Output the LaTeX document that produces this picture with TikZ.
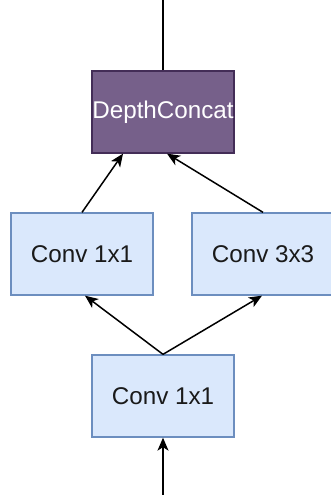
\documentclass[tikz,border=0pt]{standalone}
\usepackage{fontspec}
\setmainfont{Liberation Sans}
\usetikzlibrary{arrows.meta}
\definecolor{convfill}{HTML}{DAE8FC}
\definecolor{convline}{HTML}{6C8EBF}
\definecolor{catfill}{HTML}{76608A}
\definecolor{catline}{HTML}{432D57}
\definecolor{labeltext}{HTML}{1A1A1A}
\tikzset{
  block/.style={rectangle, minimum width=142pt, minimum height=82pt, inner sep=0pt,
    line width=1.3pt, font=\fontsize{24.2}{27}\selectfont},
  conv/.style={block, fill=convfill, draw=convline, text=labeltext},
  concat/.style={block, fill=catfill, draw=catline, text=white},
  flow/.style={line width=1.5pt, draw=black, -{Stealth[length=13pt,width=11pt,inset=3.5pt]}},
  plain/.style={line width=1.5pt, draw=black}
}
\begin{document}
\begin{tikzpicture}[x=1pt, y=-1pt]
  \useasboundingbox (0,0) rectangle (330,495);

  % layers
  \node[concat] (cat) at (163,112) {DepthConcat};
  \node[conv] (left) at (82,254) {Conv 1x1};
  \node[conv] (right) at (263,254) {Conv 3x3};
  \node[conv] (base) at (163,396) {Conv 1x1};

  % free ends of the input and output lines
  \coordinate (out) at (163,0);
  \coordinate (in) at (163,495);

  % output of the concatenation
  \draw[plain] (cat.north) -- (out);

  % branches into the concatenation
  \draw[flow] (left.north) -- ([xshift=-40pt]cat.south);
  \draw[flow] (right.north) -- ([xshift=4pt]cat.south);

  % fan-out from the shared 1x1 convolution
  \draw[flow] (base.north) -- ([xshift=3pt]left.south);
  \draw[flow] (base.north) -- ([xshift=-1pt]right.south);

  % input
  \draw[flow] (in) -- (base.south);
\end{tikzpicture}
\end{document}
